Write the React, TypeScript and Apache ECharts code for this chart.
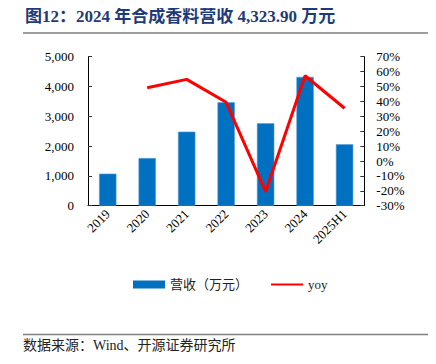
import React, { useEffect, useRef } from "react";
import * as echarts from "echarts";

const categories = ["2019", "2020", "2021", "2022", "2023", "2024", "2025H1"];
const revenue = [1075, 1600, 2485, 3470, 2765, 4323.9, 2060];
const yoy = [null, 49.2, 54.8, 39.4, -20.6, 57.2, 35.4];
const leftTicks = [0, 1000, 2000, 3000, 4000, 5000];
const rightTicks = [-30, -20, -10, 0, 10, 20, 30, 40, 50, 60, 70];

const SERIF = "'Liberation Serif', 'Times New Roman', 'Noto Sans CJK SC', serif";

export default function App() {
  const ref = useRef<HTMLDivElement>(null);
  useEffect(() => {
    const chart = echarts.init(ref.current!, null, { renderer: "svg" });
    chart.setOption({
      animation: false,
      textStyle: { fontFamily: SERIF },
      graphic: [
        {
          type: "text",
          left: 25,
          top: 8,
          style: {
            text: "图12：2024 年合成香料营收 4,323.90 万元",
            fontFamily: SERIF,
            fontWeight: "bold",
            fontSize: 17,
            fill: "#1f3a78",
          },
        },
        {
          type: "line",
          shape: { x1: 23, y1: 33, x2: 436, y2: 33 },
          style: { stroke: "#7f7f7f", lineWidth: 1.5 },
        },
        {
          type: "line",
          shape: { x1: 23, y1: 334.5, x2: 436, y2: 334.5 },
          style: { stroke: "#7f7f7f", lineWidth: 1.5 },
        },
        {
          type: "text",
          left: 23,
          top: 338,
          style: {
            text: "数据来源：Wind、开源证券研究所",
            fontFamily: SERIF,
            fontSize: 14,
            fill: "#222",
          },
        },
      ],
      legend: {
        left: 128,
        top: 273,
        itemGap: 22,
        itemWidth: 32,
        itemHeight: 8,
        textStyle: { fontFamily: SERIF, fontSize: 13, color: "#222" },
        data: [
          { name: "营收（万元）", icon: "rect", itemStyle: { borderWidth: 0 } },
          { name: "yoy", itemStyle: { opacity: 0 } },
        ],
      },
      grid: { left: 88, right: 71.7, top: 56.7, bottom: 158.3, containLabel: false },
      xAxis: {
        type: "category",
        data: categories,
        axisLine: { lineStyle: { color: "#000", width: 1 } },
        axisTick: { inside: true, length: 4, lineStyle: { color: "#555" } },
        axisLabel: {
          rotate: 45,
          fontFamily: SERIF,
          fontSize: 13,
          color: "#000",
          margin: 6,
        },
      },
      yAxis: [
        {
          type: "value",
          min: 0,
          max: 5000,
          interval: 1000,
          position: "left",
          splitLine: { show: false },
          axisLine: { show: true, lineStyle: { color: "#000" } },
          axisTick: { show: true, inside: true, length: 4, lineStyle: { color: "#333" } },
          axisLabel: {
            fontFamily: SERIF,
            fontSize: 13,
            color: "#000",
            margin: 14,
            formatter: (v: number) => (leftTicks.includes(v) ? v.toLocaleString("en-US") : ""),
          },
        },
        {
          type: "value",
          min: -30,
          max: 70,
          interval: 10,
          position: "right",
          splitLine: { show: false },
          axisLine: { show: true, lineStyle: { color: "#000" } },
          axisTick: { show: true, inside: true, length: 4, lineStyle: { color: "#333" } },
          axisLabel: {
            fontFamily: SERIF,
            fontSize: 13,
            color: "#000",
            margin: 12,
            formatter: (v: number) => (rightTicks.includes(v) ? v + "%" : ""),
          },
        },
      ],
      series: [
        {
          name: "营收（万元）",
          type: "bar",
          data: revenue,
          yAxisIndex: 0,
          barWidth: "44%",
          itemStyle: { color: "#0070c0", borderColor: "#5b9bd5", borderWidth: 0.6 },
        },
        {
          name: "yoy",
          type: "line",
          data: yoy,
          yAxisIndex: 1,
          symbol: "none",
          lineStyle: { color: "#ff0000", width: 3 },
          itemStyle: { color: "#ff0000" },
        },
      ],
    });
    return () => chart.dispose();
  }, []);
  return <div ref={ref} style={{ width: 436, height: 364, margin: -8 }} />;
}
